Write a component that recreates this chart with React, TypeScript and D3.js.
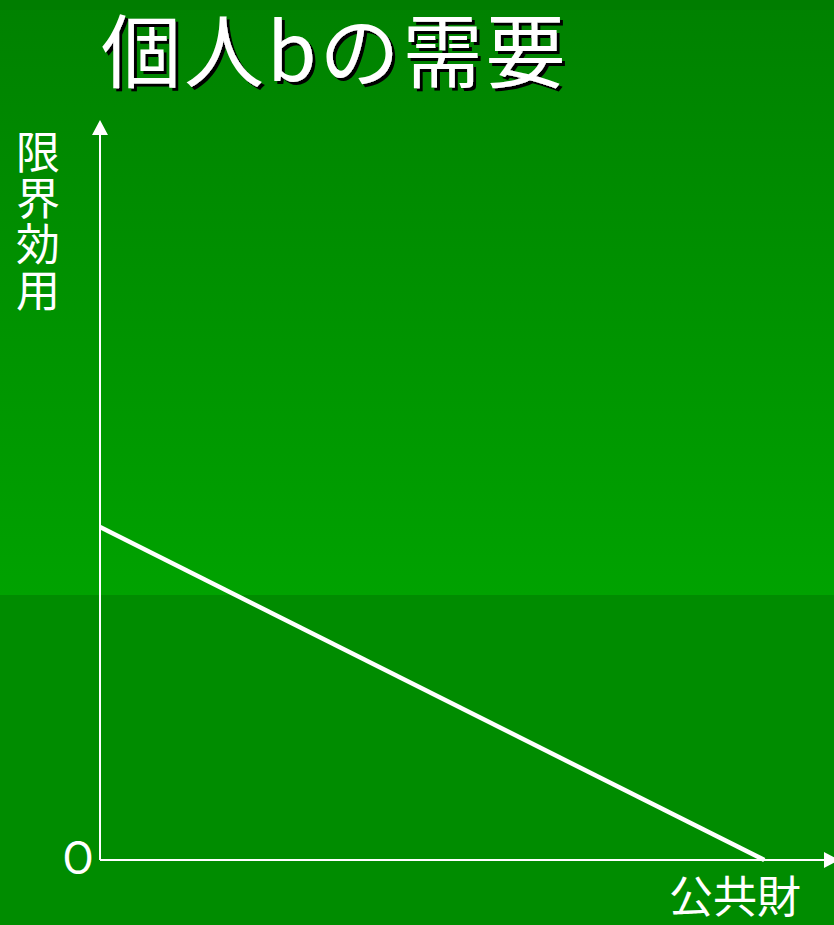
import React from "react";
import * as d3 from "d3";

const title = "個人bの需要";
const yLabel = "限界効用";
const xLabel = "公共財";
const originLabel = "O";
// demand line of individual b: [quantity, marginal utility]
const demandPoints: [number, number][] = [
  [0, 45],
  [91, 0],
];

const W = 834;
const H = 925;

export default function App() {
  const x = d3.scaleLinear().domain([0, 100]).range([100, 830]);
  const y = d3.scaleLinear().domain([0, 100]).range([860, 120]);
  const line = d3
    .line<[number, number]>()
    .x((d) => x(d[0]))
    .y((d) => y(d[1]));
  const font = "'Noto Sans CJK JP', 'Noto Sans', sans-serif";
  const x0 = x(0);
  const y0 = y(0);
  const yTop = y(100);
  const xEnd = W;
  return (
    <svg
      width={W}
      height={H}
      style={{ position: "fixed", left: 0, top: 0, display: "block" }}
    >
      <defs>
        <linearGradient id="bg" x1="0" y1="0" x2="0" y2="1">
          <stop offset="0" stopColor="#008100" />
          <stop offset="1" stopColor="#00a200" />
        </linearGradient>
        <filter id="sh" filterUnits="userSpaceOnUse" x={0} y={0} width={W} height={120}>
          <feDropShadow dx="3" dy="3" stdDeviation="0" floodColor="#000" floodOpacity="1" />
        </filter>
      </defs>
      <rect x={0} y={0} width={W} height={595} fill="url(#bg)" />
      <rect x={0} y={0} width={W} height={10} fill="#007d00" />
      <rect x={0} y={595} width={W} height={H - 595} fill="#008c00" />

      <text
        x={101}
        y={81}
        fill="#fff"
        fontSize={80}
        fontFamily={font}
        filter="url(#sh)"
        style={{ letterSpacing: "3px" }}
      >
        {title}
      </text>

      {/* y axis */}
      <line x1={x0} y1={y0} x2={x0} y2={yTop + 12} stroke="#fff" strokeWidth={2} />
      <path
        d={`M${x0 - 8},${yTop + 15} L${x0},${yTop} L${x0 + 8},${yTop + 15} Z`}
        fill="#fff"
      />
      {/* x axis */}
      <line x1={x0} y1={y0} x2={xEnd - 8} y2={y0} stroke="#fff" strokeWidth={2} />
      <path
        d={`M${xEnd - 10},${y0 - 8} L${xEnd + 5},${y0} L${xEnd - 10},${y0 + 8} Z`}
        fill="#fff"
      />

      <path d={line(demandPoints) || ""} fill="none" stroke="#fff" strokeWidth={4.5} />

      <text
        x={38}
        y={130}
        fill="#fff"
        fontSize={44}
        fontFamily={font}
        style={{ writingMode: "vertical-rl", textOrientation: "upright", letterSpacing: "2px" }}
      >
        {yLabel}
      </text>
      <text x={78} y={873} fill="#fff" fontSize={42} fontFamily={font} textAnchor="middle">
        {originLabel}
      </text>
      <text x={735} y={913} fill="#fff" fontSize={44} fontFamily={font} textAnchor="middle">
        {xLabel}
      </text>
    </svg>
  );
}
